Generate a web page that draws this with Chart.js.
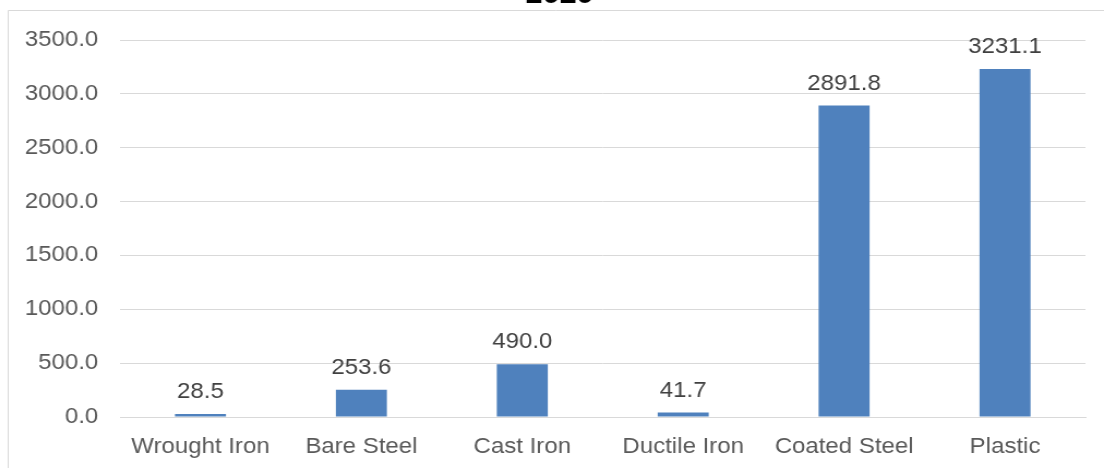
<!DOCTYPE html>
<html>
<head>
<meta charset="utf-8">
<script src="https://cdn.jsdelivr.net/npm/chart.js@4"></script>
<style>
  html, body { margin: 0; padding: 0; background: #fff; overflow: hidden; }
  /* drawn a little narrower and stretched sideways, like the exported chart */
  #wrap { width: 1012px; height: 468px; transform-origin: 0 0; transform: scaleX(1.09090909); }
  #pipeChart { display: block; }
</style>
</head>
<body>
<div id="wrap"><canvas id="pipeChart" width="1012" height="468"></canvas></div>
<script>
let pipeTypes = ["Wrought Iron", "Bare Steel", "Cast Iron", "Ductile Iron", "Coated Steel", "Plastic"];
let milesOfMain = [28.5, 253.6, 490.0, 41.7, 2891.8, 3231.1];
let chartTitle = "2020";

const FONT = "'Liberation Sans', Arial, sans-serif";

// frame lines, clipped title and value labels over the bars
const excelLook = {
  id: "excelLook",
  afterDraw(chart) {
    const ctx = chart.ctx;
    ctx.save();
    ctx.strokeStyle = "#d9d9d9";
    ctx.lineWidth = 1;
    ctx.beginPath();
    ctx.moveTo(7.5, 468);
    ctx.lineTo(7.5, 10.5);
    ctx.lineTo(1012, 10.5);
    ctx.stroke();

    ctx.fillStyle = "#000";
    ctx.font = "bold 28px " + FONT;
    ctx.textAlign = "center";
    ctx.textBaseline = "alphabetic";
    ctx.fillText(chartTitle, 513, 3);

    ctx.fillStyle = "#404040";
    ctx.font = "22px " + FONT;
    const meta = chart.getDatasetMeta(0);
    meta.data.forEach((bar, i) => {
      ctx.fillText(milesOfMain[i].toFixed(1), bar.x, bar.y - 16);
    });
    ctx.restore();
  },
};

new Chart("pipeChart", {
  type: "bar",
  data: {
    labels: pipeTypes,
    datasets: [
      {
        data: milesOfMain,
        backgroundColor: "#4f81bd",
        barPercentage: 0.317,
        categoryPercentage: 1,
      },
    ],
  },
  options: {
    responsive: false,
    animation: false,
    devicePixelRatio: 1,
    layout: { padding: { top: 40, right: 17, left: 0, bottom: 0 } },
    plugins: {
      legend: { display: false },
      title: { display: false },
      tooltip: { enabled: false },
    },
    scales: {
      x: {
        grid: { display: false, drawTicks: false },
        border: { display: true, color: "#d9d9d9" },
        ticks: { color: "#595959", font: { family: FONT, size: 22 }, padding: 17, maxRotation: 0 },
        afterFit: (axis) => { axis.height = 51; },
      },
      y: {
        min: 0,
        max: 3500,
        grid: { color: "#d9d9d9", drawTicks: false },
        border: { display: false },
        ticks: {
          stepSize: 500,
          color: "#595959",
          font: { family: FONT, size: 22 },
          padding: 20,
          callback: (v) => v.toFixed(1),
        },
        afterFit: (axis) => { axis.width = 110; },
      },
    },
  },
  plugins: [excelLook],
});
</script>
</body>
</html>
